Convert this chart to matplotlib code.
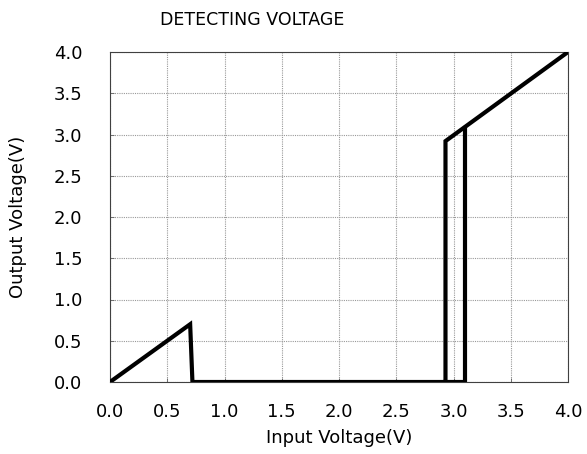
import matplotlib.pyplot as plt

# falling sweep then rising sweep, traced as one output curve
vin = [0.0, 0.70, 0.72, 2.93, 2.93, 4.0]
vout = [0.0, 0.70, 0.0, 0.0, 2.92, 4.0]
rise_x = [2.93, 3.10, 3.10]
rise_y = [0.0, 0.0, 3.08]

ticks = [0.0, 0.5, 1.0, 1.5, 2.0, 2.5, 3.0, 3.5, 4.0]

fig = plt.figure(figsize=(5.87, 4.54), dpi=100)
ax = fig.add_axes([110 / 587, 1 - 382 / 454, 458 / 587, 330 / 454])

ax.plot(vin, vout, color='black', lw=3, solid_joinstyle='miter', zorder=3)
ax.plot(rise_x, rise_y, color='black', lw=3, solid_joinstyle='miter', zorder=3)

ax.set_xlim(0, 4)
ax.set_ylim(0, 4)
ax.set_xticks(ticks)
ax.set_yticks(ticks)
ax.set_xticklabels([f'{t:.1f}' for t in ticks], fontsize=13)
ax.set_yticklabels([f'{t:.1f}' for t in ticks], fontsize=13)
ax.tick_params(axis='x', direction='in', length=3, width=0.6, color='#606060', pad=15)
ax.tick_params(axis='y', direction='in', length=3, width=0.6, color='#606060', pad=20)
ax.grid(True, color='#999999', linestyle=(0, (1, 1)), linewidth=0.8)
for s in ax.spines.values():
    s.set_color('#404040')
    s.set_linewidth(0.8)

ax.set_xlabel('Input Voltage(V)', fontsize=13, labelpad=6)
ax.set_ylabel('Output Voltage(V)', fontsize=13, labelpad=19)
fig.text(252 / 587, 1 - 20 / 454, 'DETECTING VOLTAGE', ha='center', va='center', fontsize=12.5)

fig.savefig('out.png', dpi=100)
